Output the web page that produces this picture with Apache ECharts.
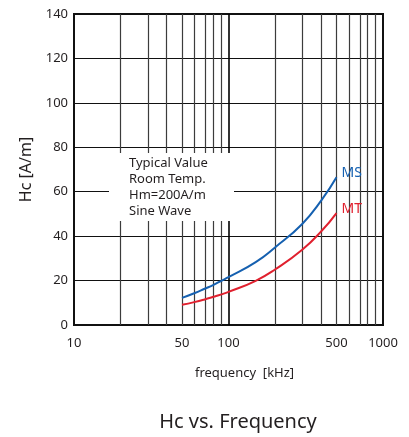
<!DOCTYPE html>
<html>
<head>
<meta charset="utf-8">
<script src="https://cdn.jsdelivr.net/npm/echarts@6/dist/echarts.min.js"></script>
<style>
html, body { margin: 0; padding: 0; background: #fff; }
#main { width: 409px; height: 437px; }
</style>
</head>
<body>
<div id="main"></div>
<script>
/*数据*/
var freq = [50, 60, 70, 80, 90, 100, 150, 200, 300, 400, 500];
var msData = [12.2, 14.3, 16.3, 18.1, 19.9, 21.5, 28.3, 34.9, 45.5, 56.2, 66.5];
var mtData = [9.1, 10.3, 11.5, 12.7, 13.8, 14.9, 19.9, 25.0, 33.9, 42.3, 50.4];
var xTickLabels = [10, 50, 100, 500, 1000];
var xGridLines = [20, 30, 40, 50, 60, 70, 80, 90, 100, 200, 300, 400, 500, 600, 700, 800, 900];
var noteLines = ['Typical Value', 'Room Temp.', 'Hm=200A/m', 'Sine Wave'];

var font = 'Noto Sans';

function lg(v) {
	return Math.log(v) / Math.LN10;
}

function toPoints(xs, ys) {
	var pts = [];
	for(var i = 0; i < xs.length; i++) {
		pts.push([lg(xs[i]), ys[i]]);
	}
	return pts;
}

/*竖向网格线*/
var gridMarks = [];
for(var i = 0; i < xGridLines.length; i++) {
	gridMarks.push({
		xAxis: lg(xGridLines[i]),
		lineStyle: {
			type: 'solid',
			color: xGridLines[i] == 100 ? '#000' : '#3c3c3c',
			width: xGridLines[i] == 100 ? 1.6 : 1.2
		}
	});
}

var chart = echarts.init(document.getElementById('main'), null, { renderer: 'canvas' });
chart.setOption({
	animation: false,
	backgroundColor: '#fff',
	title: {
		text: 'Hc vs. Frequency',
		left: 233,
		textAlign: 'center',
		top: 407,
		textStyle: { fontFamily: font, fontSize: 20, fontWeight: 'normal', color: '#231f20' }
	},
	grid: {
		left: 74, right: 26, top: 14, bottom: 112,
		show: true, borderColor: '#111', borderWidth: 2, backgroundColor: 'transparent'
	},
	xAxis: {
		type: 'value',
		min: 1,
		max: 3,
		name: 'frequency  [kHz]',
		nameLocation: 'middle',
		nameGap: 42,
		nameTextStyle: { fontFamily: font, fontSize: 13, color: '#231f20', padding: [0, 0, 0, 32] },
		axisLine: { show: true, lineStyle: { color: '#111', width: 2 } },
		axisTick: { show: false },
		splitLine: { show: false },
		axisLabel: {
			customValues: xTickLabels.map(lg),
			formatter: function(v) {
				return String(Math.round(Math.pow(10, v)));
			},
			fontFamily: font, fontSize: 13, color: '#231f20', margin: 12
		}
	},
	yAxis: {
		type: 'value',
		min: 0,
		max: 140,
		interval: 20,
		name: 'Hc [A/m]',
		nameLocation: 'middle',
		nameGap: 38,
		nameTextStyle: { fontFamily: font, fontSize: 16, color: '#231f20' },
		axisLine: { show: true, lineStyle: { color: '#111', width: 2 } },
		axisTick: { show: false },
		splitLine: { show: true, lineStyle: { color: '#111', width: 1.2 } },
		axisLabel: { fontFamily: font, fontSize: 13, color: '#231f20', margin: 6 }
	},
	graphic: [{
		type: 'rect',
		left: 109,
		top: 153,
		z: 100,
		shape: { x: 0, y: 0, width: 125, height: 68 },
		style: { fill: '#ffffff', stroke: null }
	}, {
		type: 'text',
		left: 129,
		top: 155,
		z: 101,
		style: {
			text: noteLines.join('\n'),
			font: '13px "Noto Sans"',
			lineHeight: 16,
			fill: '#231f20'
		}
	}],
	series: [{
		name: 'grid',
		type: 'line',
		data: [],
		silent: true,
		z: 1,
		markLine: {
			silent: true,
			symbol: 'none',
			label: { show: false },
			data: gridMarks
		}
	}, {
		name: 'MS',
		type: 'line',
		smooth: true,
		showSymbol: false,
		z: 120,
		data: toPoints(freq, msData),
		lineStyle: { color: '#1560b0', width: 2 },
		itemStyle: { color: '#1560b0' },
		endLabel: {
			show: true,
			formatter: 'MS',
			offset: [-3, -4],
			fontFamily: font, fontSize: 14, color: '#1560b0'
		}
	}, {
		name: 'MT',
		type: 'line',
		smooth: true,
		showSymbol: false,
		z: 120,
		data: toPoints(freq, mtData),
		lineStyle: { color: '#e0202e', width: 2 },
		itemStyle: { color: '#e0202e' },
		endLabel: {
			show: true,
			formatter: 'MT',
			offset: [-3, -4],
			fontFamily: font, fontSize: 14, color: '#e0202e'
		}
	}]
});
</script>
</body>
</html>
